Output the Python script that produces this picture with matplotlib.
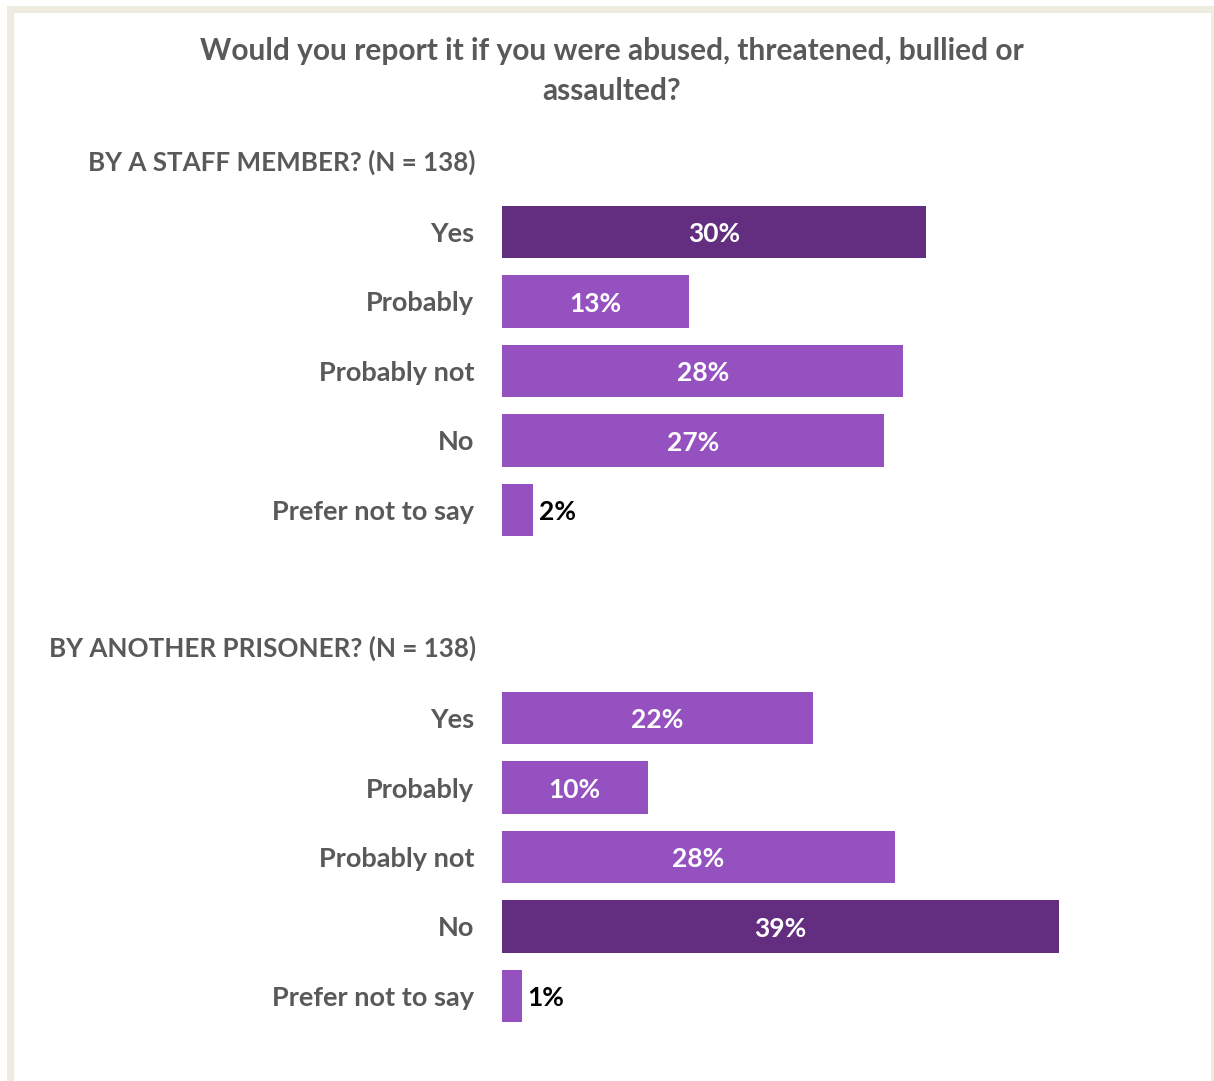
import numpy as np
import matplotlib.pyplot as plt
from matplotlib.patches import Rectangle

plt.rcParams['font.family'] = ['Lato', 'DejaVu Sans']

# data
title = "Would you report it if you were abused, threatened, bullied or\nassaulted?"
categories = ["Yes", "Probably", "Probably not", "No", "Prefer not to say"]
staff_title = "BY A STAFF MEMBER? (N = 138)"
staff_pct = [30.0, 13.2, 28.4, 27.0, 2.2]
prisoner_title = "BY ANOTHER PRISONER? (N = 138)"
prisoner_pct = [22.0, 10.3, 27.8, 39.4, 1.4]

dark = "#632D80"
light = "#9651C0"
grey = "#595959"

W, H = 1214, 1081
fig = plt.figure(figsize=(W / 100, H / 100), dpi=100)
fig.patch.set_facecolor("white")

# beige frame
fig.patches.append(Rectangle((9.5 / W, -0.1), (1214.5 - 9.5) / W, 1 - 9.5 / H + 0.1,
                             transform=fig.transFigure, fill=False,
                             edgecolor="#EEEBE0", linewidth=5.0))

fig.text(612 / W, 1 - 71 / H, title, ha="center", va="center", fontsize=21.5,
         fontweight="bold", color=grey, linespacing=1.5)

x0 = 502
px_per_pct = 14.13
xmax = 45
step = 69.5


def panel(top_center, values, header, header_y):
    top = top_center - step / 2
    height = step * 5
    ax = fig.add_axes([x0 / W, 1 - (top + height) / H, xmax * px_per_pct / W, height / H])
    y = np.arange(len(values))
    vmax = max(values)
    colors = [dark if v == vmax else light for v in values]
    ax.barh(y, values, height=0.75, color=colors)
    ax.set_xlim(0, xmax)
    ax.set_ylim(len(values) - 0.5, -0.5)
    ax.set_yticks(y)
    ax.set_yticklabels(categories, fontsize=19.5, fontweight="bold", color=grey)
    ax.tick_params(axis="y", length=0, pad=20)
    ax.set_xticks([])
    for s in ax.spines.values():
        s.set_visible(False)
    ax.set_facecolor("none")
    for yi, v in zip(y, values):
        lab = "{:d}%".format(int(round(v)))
        if v > 5:
            ax.text(v / 2, yi + 0.03, lab, ha="center", va="center", fontsize=19,
                    fontweight="bold", color="white")
        else:
            ax.text(v + 0.4, yi + 0.03, lab, ha="left", va="center", fontsize=19,
                    fontweight="bold", color="black")
    fig.text(476 / W, 1 - header_y / H, header, ha="right", va="center",
             fontsize=18.7, fontweight="bold", color=grey)
    return ax


panel(232, staff_pct, staff_title, 162)
panel(718, prisoner_pct, prisoner_title, 648)

fig.savefig("out.png", dpi=100)
